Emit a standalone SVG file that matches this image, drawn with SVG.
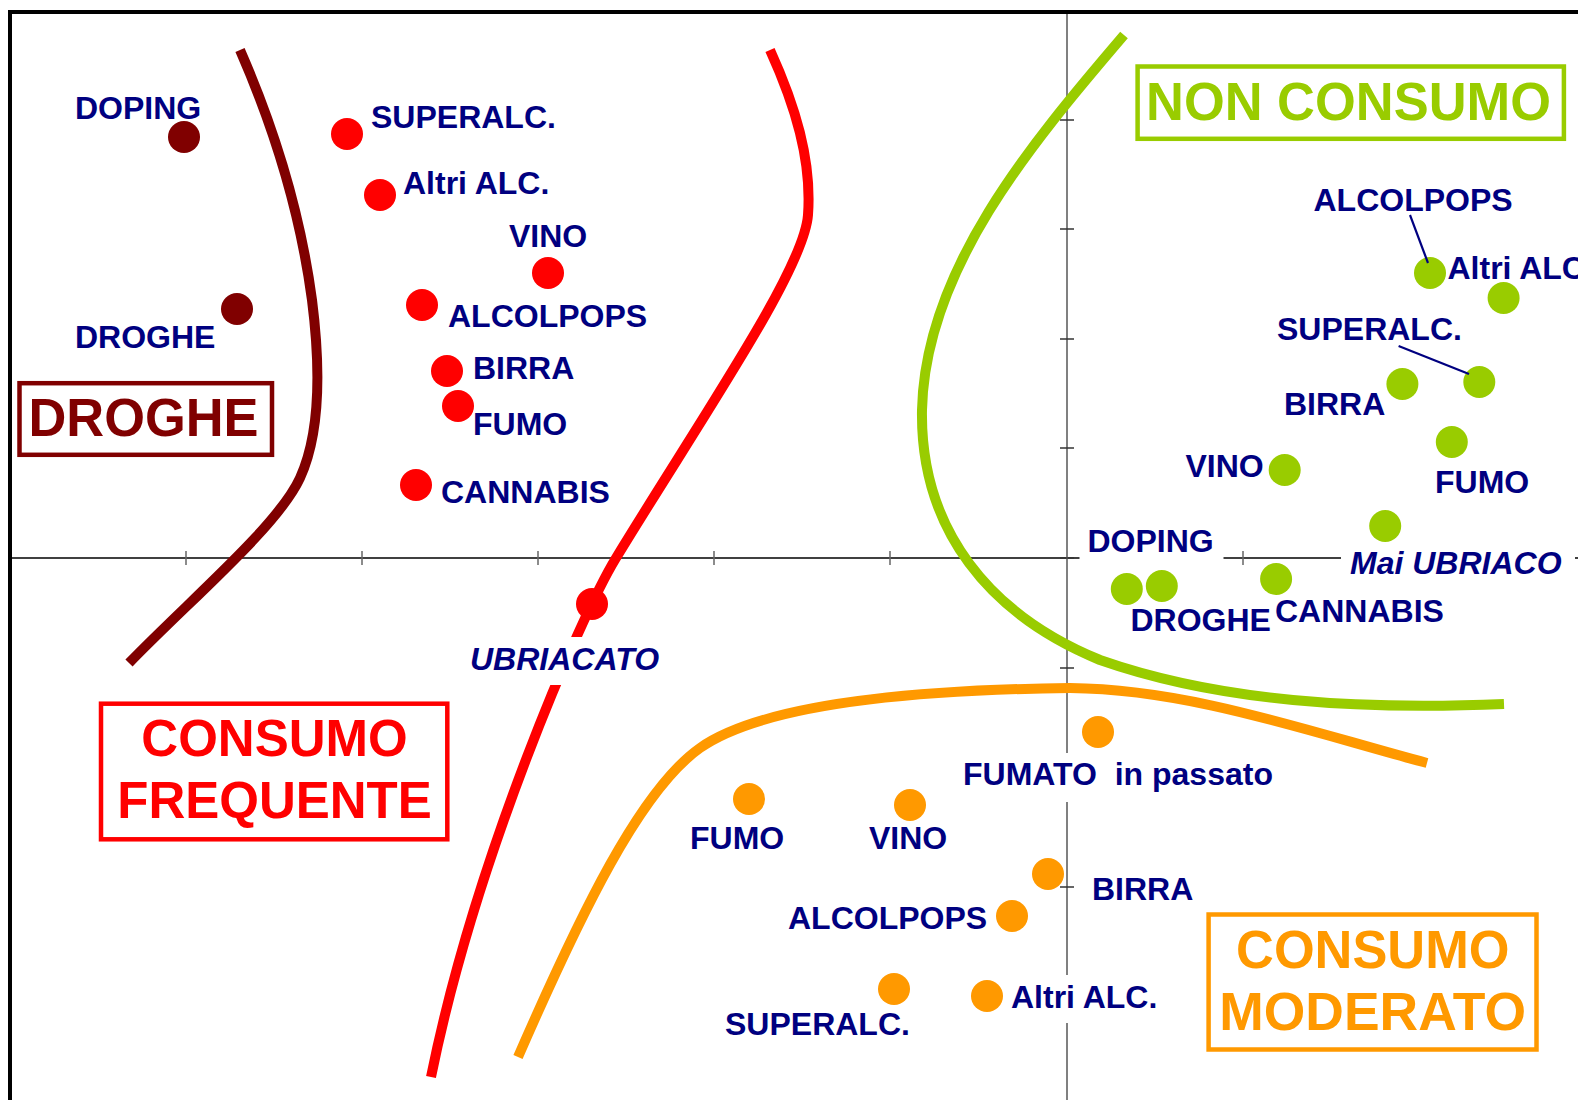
<svg xmlns="http://www.w3.org/2000/svg" width="1578" height="1100" viewBox="0 0 1578 1100">
<style>
.lbl{font-family:"Liberation Sans",Arial,sans-serif;font-weight:bold;font-size:32px;fill:#000080}
.it{font-style:italic}
.big{font-family:"Liberation Sans",Arial,sans-serif;font-weight:bold}
.bg{fill:#fff}
.dr{fill:#800000}.r{fill:#ff0000}.g{fill:#99cc00}.o{fill:#ff9900}
.curve{fill:none;stroke-width:10}
.box{fill:#fff;stroke-width:4.5}
.tickv{stroke:#333;stroke-width:1.5}
.tickh{stroke:#666;stroke-width:1.5}
.lead{stroke:#000080;stroke-width:2.2}
</style>
<rect x="0" y="0" width="1578" height="1100" fill="#fff"/>
<rect id="frame" x="10" y="12" width="1620" height="1200" fill="none" stroke="#000" stroke-width="4"/>
<g id="axes">
  <line x1="10" y1="558" x2="1578" y2="558" stroke="#000" stroke-width="1.5"/>
  <line x1="1067" y1="14" x2="1067" y2="1100" stroke="#808080" stroke-width="2"/>
  <g class="tickh">
    <line x1="186" y1="551" x2="186" y2="565"/>
    <line x1="362" y1="551" x2="362" y2="565"/>
    <line x1="538" y1="551" x2="538" y2="565"/>
    <line x1="714" y1="551" x2="714" y2="565"/>
    <line x1="890" y1="551" x2="890" y2="565"/>
    <line x1="1243" y1="551" x2="1243" y2="565"/>
    <line x1="1419" y1="551" x2="1419" y2="565"/>
  </g>
  <g class="tickv">
    <line x1="1060" y1="120" x2="1074" y2="120"/>
    <line x1="1060" y1="229" x2="1074" y2="229"/>
    <line x1="1060" y1="339" x2="1074" y2="339"/>
    <line x1="1060" y1="448" x2="1074" y2="448"/>
    <line x1="1060" y1="558" x2="1074" y2="558"/>
    <line x1="1060" y1="668" x2="1074" y2="668"/>
    <line x1="1060" y1="777" x2="1074" y2="777"/>
    <line x1="1060" y1="887" x2="1074" y2="887"/>
    <line x1="1060" y1="997" x2="1074" y2="997"/>
  </g>
</g>
<g id="boundaries">
  <path class="curve" stroke="#800000" d="M240 50 C275 130 300 210 312 300 C320 363 322 430 300 478 C278 526 190 600 129 663"/>
  <path class="curve" stroke="#ff0000" d="M770 50 C795 105 812 160 808 215 C804 270 700 420 616 558 C580 617 475 860 431 1077"/>
  <path class="curve" stroke="#99cc00" d="M1124 35 C1030 145 925 270 922 410 C920 530 990 615 1100 660 C1220 702 1360 710 1504 704"/>
  <path class="curve" stroke="#ff9900" d="M518 1057 C580 915 640 790 700 748 C760 706 900 690 1070 688 C1190 689 1310 732 1427 763"/>
</g>
<g id="region-droghe"><rect class="box" stroke="#800000" x="19.5" y="383.2" width="252.5" height="71.6"/><text class="big" x="28.5" y="436" font-size="54" fill="#800000" textLength="230" lengthAdjust="spacingAndGlyphs">DROGHE</text></g>
<g id="region-frequente"><rect class="box" stroke="#ff0000" x="101" y="703.7" width="346.3" height="135.6"/><text class="big" x="274.5" y="756" font-size="51" fill="#ff0000" text-anchor="middle">CONSUMO</text><text class="big" x="274.5" y="818.3" font-size="51" fill="#ff0000" text-anchor="middle">FREQUENTE</text></g>
<g id="region-non-consumo"><rect class="box" stroke="#99cc00" x="1137.6" y="66.5" width="426.3" height="72.3"/><text class="big" x="1146" y="120" font-size="54.5" fill="#99cc00" textLength="405" lengthAdjust="spacingAndGlyphs">NON CONSUMO</text></g>
<g id="region-moderato"><rect class="box" stroke="#ff9900" x="1208.6" y="914.5" width="327.9" height="135"/><text class="big" x="1236.1" y="968.3" font-size="54.5" fill="#ff9900" textLength="273.4" lengthAdjust="spacingAndGlyphs">CONSUMO</text><text class="big" x="1219.3" y="1030" font-size="54.5" fill="#ff9900" textLength="306.7" lengthAdjust="spacingAndGlyphs">MODERATO</text></g>
<g id="dr-doping"><circle class="dr" cx="184" cy="137" r="16"/><text class="lbl" x="75" y="119">DOPING</text></g>
<g id="dr-droghe"><circle class="dr" cx="237" cy="309" r="16"/><text class="lbl" x="75" y="347.7">DROGHE</text></g>
<g id="r-superalc"><circle class="r" cx="347" cy="134" r="16"/><text class="lbl" x="371" y="128.3">SUPERALC.</text></g>
<g id="r-altri"><circle class="r" cx="380" cy="195" r="16"/><text class="lbl" x="403" y="194">Altri ALC.</text></g>
<g id="r-vino"><circle class="r" cx="548" cy="273" r="16"/><text class="lbl" x="509" y="246.7">VINO</text></g>
<g id="r-alcolpops"><circle class="r" cx="422" cy="305" r="16"/><text class="lbl" x="448" y="326.7">ALCOLPOPS</text></g>
<g id="r-birra"><circle class="r" cx="447" cy="371" r="16"/><text class="lbl" x="473" y="379.3">BIRRA</text></g>
<g id="r-fumo"><circle class="r" cx="458" cy="406" r="16"/><text class="lbl" x="473" y="435">FUMO</text></g>
<g id="r-cannabis"><circle class="r" cx="416" cy="485" r="16"/><text class="lbl" x="441" y="503.3">CANNABIS</text></g>
<g id="r-ubriacato"><rect class="bg" x="461" y="637" width="209" height="48"/><circle class="r" cx="592" cy="604" r="16"/><text class="lbl it" x="470" y="670">UBRIACATO</text></g>
<g id="g-alcolpops"><circle class="g" cx="1430" cy="273" r="16"/><text class="lbl" x="1313.5" y="211">ALCOLPOPS</text></g>
<g id="g-altri"><circle class="g" cx="1503.6" cy="298" r="16"/><text class="lbl" x="1447.5" y="279.3">Altri ALC.</text></g>
<g id="g-superalc"><circle class="g" cx="1479.3" cy="382" r="16"/><text class="lbl" x="1277" y="340">SUPERALC.</text></g>
<g id="g-birra"><circle class="g" cx="1402.4" cy="384" r="16"/><text class="lbl" x="1284" y="415">BIRRA</text></g>
<g id="g-fumo"><circle class="g" cx="1451.8" cy="442" r="16"/><text class="lbl" x="1435" y="493.3">FUMO</text></g>
<g id="g-vino"><circle class="g" cx="1284.7" cy="470" r="16"/><text class="lbl" x="1185.5" y="477.3">VINO</text></g>
<g id="g-mai"><rect class="bg" x="1341" y="541" width="234" height="48"/><circle class="g" cx="1385.2" cy="526" r="16"/><text class="lbl it" x="1350" y="574">Mai UBRIACO</text></g>
<g id="g-doping"><rect class="bg" x="1079.5" y="519" width="144" height="47"/><circle class="g" cx="1126.8" cy="589" r="16"/><text class="lbl" x="1087.5" y="551.7">DOPING</text></g>
<g id="g-droghe"><circle class="g" cx="1161.8" cy="586" r="16"/><text class="lbl" x="1130.5" y="631">DROGHE</text></g>
<g id="g-cannabis"><circle class="g" cx="1276.1" cy="579" r="16"/><text class="lbl" x="1275" y="621.7">CANNABIS</text></g>
<g id="o-fumato"><rect class="bg" x="955" y="753" width="325" height="49"/><circle class="o" cx="1098" cy="732" r="16"/><text class="lbl" x="963" y="785" xml:space="preserve">FUMATO  in passato</text></g>
<g id="o-fumo"><circle class="o" cx="749" cy="799" r="16"/><text class="lbl" x="690" y="849.3">FUMO</text></g>
<g id="o-vino"><circle class="o" cx="910" cy="805" r="16"/><text class="lbl" x="869" y="849.3">VINO</text></g>
<g id="o-birra"><circle class="o" cx="1048" cy="874" r="16"/><text class="lbl" x="1092" y="900">BIRRA</text></g>
<g id="o-alcolpops"><circle class="o" cx="1012" cy="916" r="16"/><text class="lbl" x="788" y="929.3">ALCOLPOPS</text></g>
<g id="o-superalc"><circle class="o" cx="894" cy="989" r="16"/><text class="lbl" x="725" y="1035">SUPERALC.</text></g>
<g id="o-altri"><rect class="bg" x="1003" y="975" width="157" height="48"/><circle class="o" cx="987" cy="996" r="16"/><text class="lbl" x="1011" y="1008.3">Altri ALC.</text></g>
<g id="connectors">
  <line class="lead" x1="1410" y1="215" x2="1428" y2="263"/>
  <line class="lead" x1="1398.6" y1="346" x2="1469" y2="374"/>
</g>
</svg>
